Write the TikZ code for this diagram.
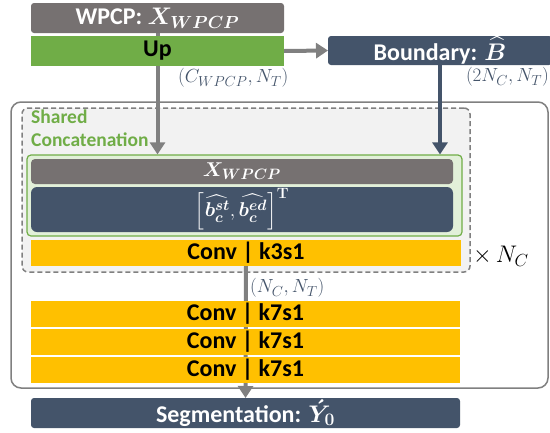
\RequirePackage{fix-cm}
\documentclass[tikz,border=0pt]{standalone}
\usepackage{amsmath}
\usepackage[no-math]{fontspec}
\setmainfont{Carlito}
\usetikzlibrary{arrows.meta}

% roomier sub- and superscripts at the large sizes used below
\DeclareMathSizes{24}{24}{17.5}{13}
\DeclareMathSizes{19}{19}{14.5}{11}
\DeclareMathSizes{20}{20}{15}{11}

\definecolor{slate}{HTML}{44546A}
\definecolor{taupe}{HTML}{767171}
\definecolor{leaf}{HTML}{70AD47}
\definecolor{amber}{HTML}{FFC000}
\definecolor{mist}{HTML}{F2F2F2}
\definecolor{mint}{HTML}{E2F0D9}
\definecolor{steel}{HTML}{808080}

\pgfdeclarelayer{bg}
\pgfdeclarelayer{mid}
\pgfsetlayers{bg,mid,main}

\tikzset{
  blk/.style={rectangle, inner sep=0pt, outer sep=0pt,
    font=\fontsize{24}{28}\selectfont\bfseries},
  darkblk/.style={blk, fill=slate, text=white, rounded corners=3pt},
  graybox/.style={blk, fill=taupe, text=white, rounded corners=3pt},
  convbox/.style={blk, fill=amber, text=black},
  dimlabel/.style={inner sep=0pt, text=slate, font=\fontsize{19}{22}\selectfont},
  grayarrow/.style={draw=steel, line width=4pt,
    -{Triangle[width=15pt,length=12pt]}},
  bluearrow/.style={draw=slate, line width=4pt,
    -{Triangle[width=15pt,length=12pt]}},
}

\begin{document}
\begin{tikzpicture}[x=1pt,y=-1pt]
\useasboundingbox (0,0) rectangle (550,432);

% container frames
\begin{pgfonlayer}{bg}
  \node[rectangle, draw=steel, line width=1.5pt, fill=white, rounded corners=10pt,
        minimum width=537pt, minimum height=286pt] (outer) at (279.5,245) {};
  \node[rectangle, draw=steel, line width=1.5pt, fill=mist, rounded corners=6pt,
        dash pattern=on 5pt off 3pt,
        minimum width=448pt, minimum height=164pt] (shared) at (246,190) {};
\end{pgfonlayer}

% input and boundary branch
\node[graybox, minimum width=253pt, minimum height=30pt] (wpcp) at (157.5,18)
  {WPCP: $\boldsymbol{X_{WPCP}}$};
\node[blk, fill=leaf, text=black, minimum width=253pt, minimum height=30pt] (up)
  at (157.5,51) {Up};
\node[darkblk, minimum width=224pt, minimum height=29pt] (bnd) at (440,50.5)
  {Boundary: $\boldsymbol{\widehat{B}}$};

\node[dimlabel, anchor=west] (lc) at (178,78) {$(C_{WPCP},N_T)$};
\node[dimlabel, anchor=east] (lb) at (549,77) {$(2N_C,N_T)$};

% shared concatenation block
\node[anchor=north west, align=left, inner sep=0pt, text=leaf,
      font=\fontsize{19.5}{23}\selectfont\bfseries] (sharedtitle) at (31,110)
  {Shared\\Concatenation};
\node[rectangle, draw=leaf, line width=1.2pt, fill=mint, rounded corners=4pt,
      minimum width=435pt, minimum height=81pt] (concat) at (244.5,195.5) {};
\node[graybox, rounded corners=4pt, minimum width=422pt, minimum height=25pt,
      font=\fontsize{20}{22}\selectfont] (xbar)
  at (242,171.5) {$\boldsymbol{X_{WPCP}}$};
\node[darkblk, rounded corners=6pt, minimum width=422pt, minimum height=45pt,
      font=\fontsize{20}{22}\selectfont] (bbar)
  at (242,209.5)
  {$\left[\boldsymbol{\widehat{b^{st}_c}},\boldsymbol{\widehat{b^{ed}_c}}\right]^{\mathbf{T}}$};
\node[convbox, minimum width=430pt, minimum height=26pt] (k3) at (246,253)
  {Conv | k3s1};
\node[anchor=west, inner sep=0pt, font=\fontsize{24}{26}\selectfont] (rep)
  at (473,256) {$\times\,N_C$};

% decoder convolutions
\node[dimlabel, anchor=west] (ln) at (250,288) {$(N_C,N_T)$};
\node[convbox, minimum width=429pt, minimum height=26pt] (k7a) at (245.5,314)
  {Conv | k7s1};
\node[convbox, minimum width=429pt, minimum height=26pt] (k7b) at (245.5,342)
  {Conv | k7s1};
\node[convbox, minimum width=429pt, minimum height=26pt] (k7c) at (245.5,370)
  {Conv | k7s1};
\node[darkblk, minimum width=429pt, minimum height=30pt] (seg) at (245.5,413)
  {Segmentation: $\boldsymbol{\acute{Y}_0}$};

% connectors, kept behind the blocks
\begin{pgfonlayer}{mid}
  \draw[grayarrow] (wpcp.south) -- (wpcp.south |- concat.north);
  \draw[grayarrow] (up.east) -- (bnd.west);
  \draw[bluearrow] (bnd.south) -- (bnd.south |- concat.north);
  \draw[grayarrow] (k3.south) -- (seg.north);
\end{pgfonlayer}
\end{tikzpicture}
\end{document}
